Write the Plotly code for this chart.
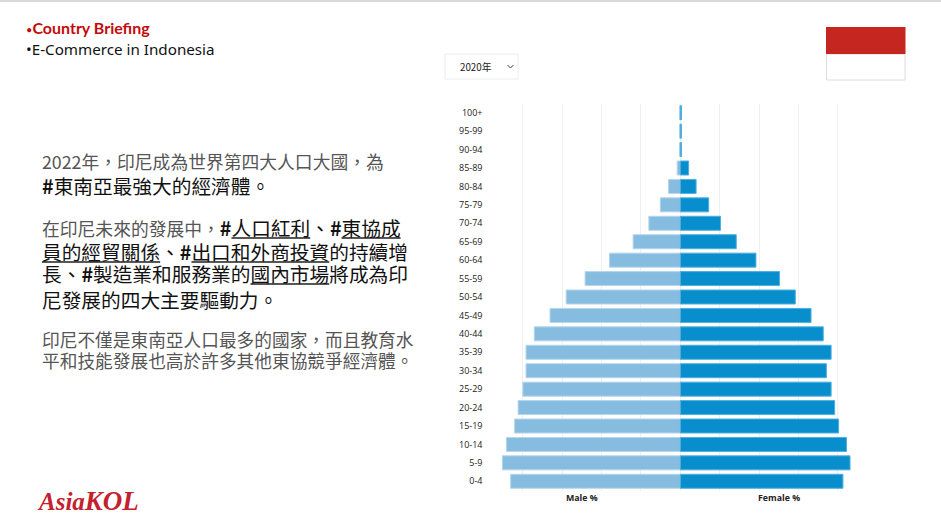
import plotly.graph_objects as go

W, H = 941, 531
age_groups = ["0-4","5-9","10-14","15-19","20-24","25-29","30-34","35-39","40-44","45-49",
              "50-54","55-59","60-64","65-69","70-74","75-79","80-84","85-89","90-94","95-99","100+"]
male_pct = [4.31,4.52,4.42,4.21,4.12,4.00,3.92,3.92,3.71,3.31,2.90,2.42,1.80,1.20,0.80,0.51,0.30,0.08,0.02,0.02,0.02]
female_pct = [4.13,4.31,4.22,4.02,3.92,3.83,3.71,3.83,3.63,3.32,2.92,2.52,1.92,1.42,1.02,0.72,0.40,0.21,0.03,0.03,0.03]
x_ticks = [-5,-4,-3,-2,-1,0,1,2,3,4]

G = "#555555"
def reg(t, s=17.8): return f'<span style="font-size:{s}px;color:{G}">{t}</span>'
def dark(t, s=19.7): return f'<span style="font-size:{s}px;color:#111">{t}</span>'
def hash_(s=19.7): return f'<b><span style="font-size:{s}px;color:#111">#</span></b>'
def ul(t, s=19.7): return f'<u><span style="font-size:{s}px;color:#111">{t}</span></u>'

body_lines = [
    (161, reg("2022年，印尼成為世界第四大人口大國，為")),
    (185, hash_() + dark("東南亞最強大的經濟體。")),
    (227, reg("在印尼未來的發展中，") + hash_() + ul("人口紅利") + dark("、") + hash_() + ul("東協成")),
    (251, ul("員的經貿關係") + dark("、") + hash_() + ul("出口和外商投資") + dark("的持續增")),
    (274, dark("長、") + hash_() + dark("製造業和服務業的") + ul("國內市場") + dark("將成為印")),
    (299, dark("尼發展的四大主要驅動力。")),
    (339, reg("印尼不僅是東南亞人口最多的國家，而且教育水", 17.7)),
    (360, reg("平和技能發展也高於許多其他東協競爭經濟體。", 17.7)),
]

def px(x): return x / W
def py(y): return 1 - y / H

fig = go.Figure()
fig.add_bar(y=age_groups, x=[-v for v in male_pct], orientation="h", name="Male %", width=0.76,
            marker=dict(color="#85bce0", line=dict(color="#b5d6ec", width=1)))
fig.add_bar(y=age_groups, x=female_pct, orientation="h", name="Female %", width=0.76,
            marker=dict(color="#088ecd", line=dict(color="#4fb0dd", width=1)))

annotations = []
def note(x, y, text, anchor="left", **font):
    annotations.append(dict(xref="paper", yref="paper", x=px(x), y=py(y), text=text, showarrow=False,
                            xanchor=anchor, yanchor="middle", borderpad=0, font=font))

F_CJK = "Noto Sans CJK TC"
note(25, 28, '<span style="font-size:11px">•</span><b>Country Briefing</b>', family="Lato", size=16, color="#c40a0a")
note(25, 49, "•E-Commerce in Indonesia", family="Noto Sans", size=15.2, color="#111111")
note(476, 67, "2020年", anchor="center", family="Noto Sans CJK SC", size=9.8, color="#222222")
for y, t in body_lines:
    note(41, y, t, family=F_CJK, size=18, color=G)
note(36, 501, '<b><i><span style="font-size:25px">Asia</span><span style="font-size:27px">KOL</span></i></b>', family="Liberation Serif", size=25, color="#c4202e")
for xv, label in [(-2.5, "Male %"), (2.5, "Female %")]:
    annotations.append(dict(xref="x", yref="paper", x=xv, y=py(498), text=f"<b>{label}</b>", showarrow=False,
                            xanchor="center", yanchor="middle",
                            font=dict(family="Open Sans", size=8.8, color="#222222")))

def rect(x0, y0, x1, y1, **kw):
    return dict(type="rect", xref="paper", yref="paper", x0=px(x0), x1=px(x1), y0=py(y0), y1=py(y1), **kw)

shapes = [
    rect(0, 0, 941, 2, fillcolor="#d9d9d9", line=dict(width=0)),
    rect(826.5, 54, 905, 80, fillcolor="#ffffff", line=dict(color="#dcdcdc", width=1)),
    rect(826, 27, 905.5, 54, fillcolor="#c5261f", line=dict(width=0)),
    rect(445, 54, 518, 79, fillcolor="#ffffff", line=dict(color="#ececec", width=1)),
    dict(type="path", xref="paper", yref="paper", line=dict(color="#444444", width=1),
         path=f"M {px(507.5)} {py(65)} L {px(510.5)} {py(68)} L {px(513.5)} {py(65)}"),
]

fig.update_layout(
    width=W, height=H, margin=dict(l=0, r=0, t=0, b=0), paper_bgcolor="#ffffff", plot_bgcolor="#ffffff",
    barmode="overlay", showlegend=False, annotations=annotations, shapes=shapes,
    xaxis=dict(domain=[px(483.5), px(876)], range=[-5, 4.97], tickvals=x_ticks, showticklabels=False,
               showgrid=True, gridcolor="#f0f0f0", gridwidth=1, zeroline=False, ticks=""),
    yaxis=dict(domain=[py(490.5), py(103.5)], range=[-0.5, 20.5], type="category", categoryorder="array",
               categoryarray=age_groups, showgrid=False, zeroline=False, ticks="",
               tickfont=dict(family="Open Sans", size=9, color="#222222")),
)
fig.write_html("out.html", post_script="document.body.style.margin='0';", config={"displayModeBar": False})
